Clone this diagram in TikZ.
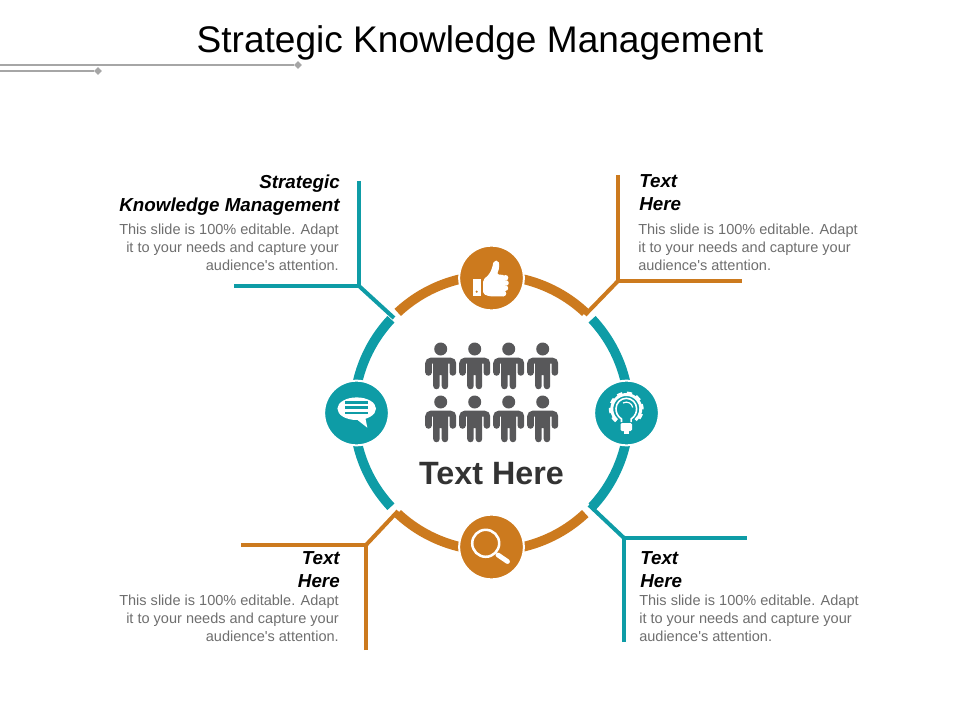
\documentclass[tikz,border=0pt]{standalone}
\usepackage{fontspec}
\setmainfont{Liberation Sans}[Ligatures=TeXOff]
\usetikzlibrary{shapes.geometric}
\definecolor{ringteal}{HTML}{0E9CA6}
\definecolor{ringorange}{HTML}{CC7A1E}
\definecolor{figgray}{HTML}{58585A}
\definecolor{bodygray}{HTML}{6E6E6E}
\definecolor{rulegray}{HTML}{A6A6A6}
\tikzset{
    ring/.style={line width=7.2pt},
    leader/.style={line width=3pt},
    icon/.style={circle,draw=white,line width=1.5pt,minimum size=48.5pt,inner sep=0pt},
    rulemark/.style={diamond,fill=rulegray,inner sep=0pt,minimum size=6pt},
    heading/.style={inner sep=0pt,font=\fontsize{14.1}{17.25}\selectfont\bfseries\itshape},
    bodytext/.style={inner sep=0pt,text=bodygray,font=\fontsize{10.9}{13.3}\selectfont},
    person/.pic={
        \fill[figgray] (0,0) circle (6.5);
        \fill[figgray] (-15.5,20) [rounded corners=4] -- (-15.5,8.7) -- (15.5,8.7) [sharp corners] -- (15.5,23.4)
            arc[start angle=0,end angle=180,radius=3.35] -- (8.8,14.5) -- (7.5,14.5) -- (7.5,37)
            arc[start angle=0,end angle=180,radius=3.25] -- (1,26) -- (-1,26) -- (-1,37)
            arc[start angle=0,end angle=180,radius=3.25] -- (-7.5,14.5) -- (-8.8,14.5) -- (-8.8,23.4)
            arc[start angle=0,end angle=180,radius=3.35] -- cycle;
    }
}
\begin{document}
\begin{tikzpicture}[x=0.75pt,y=-0.75pt]
    \useasboundingbox (0,0) rectangle (960,720);

    \node[inner sep=0pt,font=\fontsize{27.8}{32}\selectfont] (title) at (480,43) {Strategic Knowledge Management};

    % rules under the title
    \coordinate (ruleAstart) at (0,65);
    \coordinate (ruleBstart) at (0,71);
    \node[rulemark] (ruleAend) at (298,65) {};
    \node[rulemark] (ruleBend) at (98,71) {};
    \draw[rulegray,line width=1.2pt] (ruleAstart) -- (ruleAend);
    \draw[rulegray,line width=1.2pt] (ruleBstart) -- (ruleBend);

    % ring
    \draw[ring,ringorange] (491.5,413) ++(227:137.5) arc[start angle=227,end angle=313,radius=137.5];
    \draw[ring,ringorange] (491.5,413) ++(47:137.5) arc[start angle=47,end angle=133,radius=137.5];
    \draw[ring,ringteal] (491.5,413) ++(-43:137.5) arc[start angle=-43,end angle=43,radius=137.5];
    \draw[ring,ringteal] (491.5,413) ++(137:137.5) arc[start angle=137,end angle=223,radius=137.5];

    % leaders
    \coordinate (tlfoot) at (394,318);
    \coordinate (tlbend) at (359,286);
    \coordinate (tltop) at (359,181);
    \coordinate (tlend) at (234,286);
    \draw[leader,ringteal] (tlfoot) -- (tlbend);
    \draw[leader,ringteal] (tltop) -- (tlbend) -- (tlend);

    \coordinate (trfoot) at (585,315);
    \coordinate (trbend) at (618,281);
    \coordinate (trtop) at (618,175);
    \coordinate (trend) at (742,281);
    \draw[leader,ringorange] (trfoot) -- (trbend);
    \draw[leader,ringorange] (trtop) -- (trbend) -- (trend);

    \coordinate (blfoot) at (398,511);
    \coordinate (blbend) at (366,545);
    \coordinate (blbottom) at (366,650);
    \coordinate (blend) at (241,545);
    \draw[leader,ringorange] (blfoot) -- (blbend);
    \draw[leader,ringorange] (blbottom) -- (blbend) -- (blend);

    \coordinate (brfoot) at (589,505);
    \coordinate (brbend) at (624,538);
    \coordinate (brbottom) at (624,642);
    \coordinate (brend) at (747,538);
    \draw[leader,ringteal] (brfoot) -- (brbend);
    \draw[leader,ringteal] (brbottom) -- (brbend) -- (brend);

    % icon discs
    \node[icon,fill=ringorange] (thumbicon) at (491.5,278) {};
    \node[icon,fill=ringorange] (lensicon) at (491.5,547) {};
    \node[icon,fill=ringteal] (speechicon) at (356.5,413) {};
    \node[icon,fill=ringteal] (bulbicon) at (626.5,413) {};

    % thumb
    \fill[white] (472.7,279.5) rectangle (481,296);
    \fill[ringorange] (476.7,291.7) circle (1.2);
    \fill[white,rounded corners=1.5] (483,280) -- (489.5,274) -- (492.5,267) -- (493.5,261) -- (498.5,260.5) -- (499.5,267)
        -- (497,274.5) -- (505,275) -- (505,296.5) -- (490,296.5) -- (483,294) -- cycle;
    \fill[white] (505.5,277.8) circle (2.8);
    \fill[white] (506,283) circle (2.8);
    \fill[white] (505.5,288.2) circle (2.7);
    \fill[white] (503.5,293.5) circle (2.8);

    % magnifier
    \draw[white,line width=1.9pt] (485.7,543.3) circle (13.5);
    \draw[white,line width=3.6pt,line cap=round] (498,555) -- (507.5,561.5);

    % speech bubble
    \fill[white] (356.7,408.7) ellipse (19.3 and 11.3);
    \fill[white] (355,418) -- (367.3,427.7) -- (365,416) -- cycle;
    \draw[ringteal,line width=2pt] (345,402.3) -- (367.7,402.3);
    \draw[ringteal,line width=2pt] (345,407.7) -- (367.7,407.7);
    \draw[ringteal,line width=2pt] (345,413) -- (367.7,413);

    % bulb
    \draw[white,line width=2.2pt] (626.3,409) ++(130:14.5) arc[start angle=130,end angle=410,radius=14.5];
    \draw[white,line width=1.8pt,dash pattern=on 4pt off 3.5pt] (626.3,409) ++(130:16.2) arc[start angle=130,end angle=410,radius=16.2];
    \draw[white,line width=1.2pt] (621.5,422) -- (621.5,419) .. controls (617,416) and (616,412) .. (616,408.6) arc[start angle=180,end angle=360,radius=10.3] .. controls (636.6,412) and (635.6,416) .. (631.1,419) -- (631.1,422);
    \draw[white,line width=0.9pt] (626.3,408.6) ++(240:6.5) arc[start angle=240,end angle=350,radius=6.5];
    \fill[white,rounded corners=1] (620.5,423) rectangle (632,431);
    \fill[white] (623.5,431) rectangle (629,434);

    % people
    \pic at (440.7,349) {person};
    \pic at (474.7,349) {person};
    \pic at (508.7,349) {person};
    \pic at (542.7,349) {person};
    \pic at (440.7,402) {person};
    \pic at (474.7,402) {person};
    \pic at (508.7,402) {person};
    \pic at (542.7,402) {person};

    \node[inner sep=0pt,text=black!80,font=\fontsize{24.2}{28}\selectfont\bfseries] (centertext) at (491.5,474) {Text Here};

    % text blocks
    \node[heading,anchor=north east,align=right] (tlhead) at (340,174.5) {Strategic\\Knowledge Management};
    \node[bodytext,anchor=north east,align=right] (tlbody) at (339,224) {This slide is 100\% editable. Adapt\\it to your needs and capture your\\audience's attention.};

    \node[heading,anchor=north west,align=left] (trhead) at (639,174.5) {Text\\Here};
    \node[bodytext,anchor=north west,align=left] (trbody) at (638,224) {This slide is 100\% editable. Adapt\\it to your needs and capture your\\audience's attention.};

    \node[heading,anchor=north east,align=right] (blhead) at (340,551.5) {Text\\Here};
    \node[bodytext,anchor=north east,align=right] (blbody) at (339,595) {This slide is 100\% editable. Adapt\\it to your needs and capture your\\audience's attention.};

    \node[heading,anchor=north west,align=left] (brhead) at (640,551.5) {Text\\Here};
    \node[bodytext,anchor=north west,align=left] (brbody) at (639,595) {This slide is 100\% editable. Adapt\\it to your needs and capture your\\audience's attention.};
\end{tikzpicture}
\end{document}
